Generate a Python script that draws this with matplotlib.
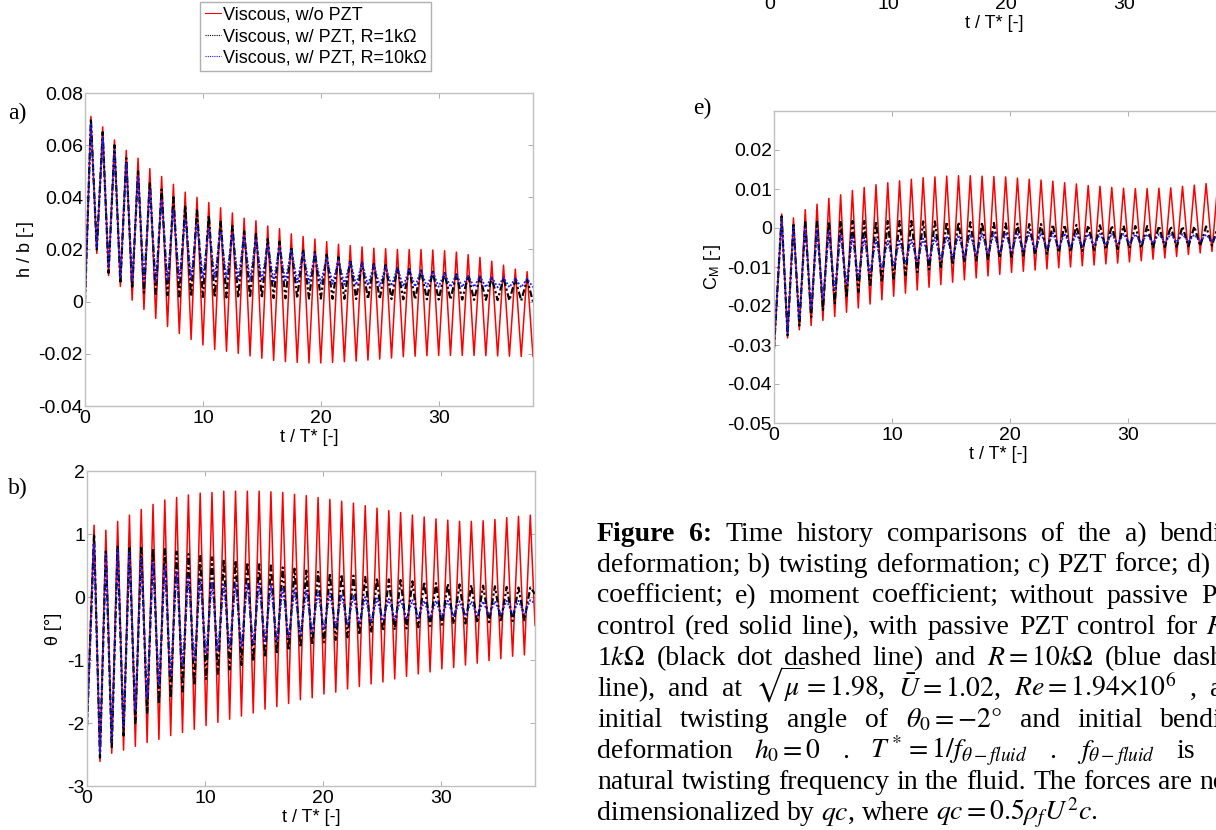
import re
import numpy as np
import matplotlib
matplotlib.use('Agg')
import matplotlib.pyplot as plt
from matplotlib.lines import Line2D

plt.rcParams['font.family'] = ['Liberation Sans', 'DejaVu Sans']
plt.rcParams['mathtext.fontset'] = 'stix'

W, H = 1216, 830

# ---- data: extremes of every oscillation cycle ----
# a) h / b : peaks at t = 0.5, 1.5, ... 37.5 ; troughs at t = 1, 2, ... 38
a_red_pk = [0.071, 0.067, 0.062, 0.058, 0.055, 0.051, 0.048, 0.045, 0.042, 0.040,
            0.038, 0.036, 0.034, 0.032, 0.031, 0.029, 0.028, 0.026, 0.025, 0.024,
            0.023, 0.022, 0.0215, 0.021, 0.0205, 0.0203, 0.020, 0.020, 0.020, 0.0198,
            0.0195, 0.019, 0.018, 0.017, 0.0155, 0.014, 0.0125, 0.0115]
a_red_tr = [0.0185, 0.010, 0.0058, 0.0006, -0.003, -0.0064, -0.0095, -0.0122, -0.0145, -0.0166,
            -0.0183, -0.019, -0.0198, -0.0208, -0.0217, -0.0225, -0.023, -0.0233, -0.0235, -0.0235,
            -0.0233, -0.023, -0.0228, -0.0224, -0.022, -0.0216, -0.0211, -0.0209, -0.0207, -0.0206,
            -0.0206, -0.0206, -0.0206, -0.0207, -0.0208, -0.0209, -0.021, -0.021]
a_blk_pk = [0.070, 0.065, 0.060, 0.055, 0.050, 0.046, 0.043, 0.040, 0.037, 0.035,
            0.033, 0.031, 0.029, 0.027, 0.026, 0.024, 0.023, 0.021, 0.020, 0.019,
            0.018, 0.017, 0.016, 0.015, 0.0145, 0.014, 0.013, 0.0125, 0.012, 0.0115,
            0.011, 0.0105, 0.010, 0.0095, 0.0092, 0.009, 0.0087, 0.0085]
a_blk_tr = [0.020, 0.011, 0.007, 0.005, 0.0035, 0.003, 0.0025, 0.002, 0.002, 0.0018,
            0.0017, 0.0016, 0.0015, 0.0015, 0.0014, 0.0014, 0.0013, 0.0013, 0.0012, 0.0012,
            0.0011, 0.0011, 0.001, 0.001, 0.001, 0.001, 0.0009, 0.0009, 0.0009, 0.0008,
            0.0008, 0.0008, 0.0007, 0.0007, 0.0006, 0.0005, 0.0004, 0.0]
a_blu_pk = [0.068, 0.063, 0.058, 0.053, 0.048, 0.043, 0.039, 0.035, 0.032, 0.030,
            0.028, 0.027, 0.026, 0.025, 0.024, 0.022, 0.021, 0.020, 0.019, 0.018,
            0.017, 0.016, 0.0155, 0.015, 0.014, 0.0135, 0.013, 0.0125, 0.012, 0.0115,
            0.011, 0.0105, 0.010, 0.0098, 0.0095, 0.0092, 0.009, 0.0088]
a_blu_tr = [0.021, 0.013, 0.009, 0.008, 0.0075, 0.0075, 0.008, 0.0085, 0.009, 0.009,
            0.009, 0.0088, 0.0085, 0.0082, 0.008, 0.0078, 0.0076, 0.0074, 0.0072, 0.007,
            0.0068, 0.0066, 0.0064, 0.0062, 0.006, 0.006, 0.0058, 0.0058, 0.0057, 0.0057,
            0.0056, 0.0056, 0.0056, 0.0055, 0.0055, 0.0055, 0.0055, 0.0055]
a_start = [0.0, 0.0, 0.0]

# b) theta : peaks at t = 0.6 ... 37.6 ; troughs at t = 1.1 ... 37.1 ; last point t = 38
b_red_pk = [1.14, 1.06, 1.2, 1.3, 1.39, 1.47, 1.54, 1.58, 1.62, 1.65,
            1.66, 1.68, 1.68, 1.68, 1.68, 1.67, 1.66, 1.63, 1.61, 1.58,
            1.55, 1.52, 1.49, 1.45, 1.41, 1.37, 1.34, 1.3, 1.27, 1.24,
            1.22, 1.2, 1.2, 1.21, 1.23, 1.26, 1.28, 1.3]
b_red_tr = [-2.61, -2.48, -2.43, -2.37, -2.31, -2.26, -2.2, -2.15, -2.1, -2.04,
            -1.99, -1.94, -1.89, -1.84, -1.78, -1.74, -1.69, -1.63, -1.6, -1.54,
            -1.51, -1.46, -1.42, -1.38, -1.35, -1.3, -1.26, -1.22, -1.19, -1.14,
            -1.12, -1.08, -1.05, -1.01, -0.98, -0.94, -0.92]
b_blk_pk = [1.0, 0.75, 0.8, 0.8, 0.78, 0.77, 0.76, 0.72, 0.68, 0.65,
            0.63, 0.6, 0.58, 0.55, 0.52, 0.5, 0.47, 0.45, 0.42, 0.4,
            0.38, 0.36, 0.34, 0.32, 0.3, 0.28, 0.27, 0.25, 0.24, 0.22,
            0.21, 0.2, 0.19, 0.18, 0.17, 0.16, 0.15, 0.15]
b_blk_tr = [-2.55, -2.4, -2.2, -2.0, -1.85, -1.7, -1.6, -1.5, -1.4, -1.3,
            -1.22, -1.15, -1.08, -1.02, -0.96, -0.9, -0.85, -0.8, -0.76, -0.72,
            -0.68, -0.64, -0.6, -0.57, -0.54, -0.52, -0.5, -0.48, -0.46, -0.44,
            -0.43, -0.42, -0.41, -0.4, -0.39, -0.38, -0.37]
b_blu_pk = [0.85, 0.7, 0.75, 0.7, 0.62, 0.55, 0.48, 0.4, 0.33, 0.28,
            0.24, 0.22, 0.22, 0.22, 0.21, 0.18, 0.15, 0.12, 0.1, 0.08,
            0.06, 0.04, 0.02, 0.0, -0.02, -0.03, -0.04, -0.05, -0.06, -0.06,
            -0.06, -0.07, -0.07, -0.07, -0.07, -0.06, -0.06, -0.05]
b_blu_tr = [-2.5, -2.3, -2.05, -1.8, -1.6, -1.4, -1.25, -1.1, -1.0, -0.9,
            -0.85, -0.8, -0.78, -0.75, -0.72, -0.7, -0.65, -0.6, -0.56, -0.52,
            -0.48, -0.45, -0.42, -0.4, -0.38, -0.36, -0.35, -0.34, -0.33, -0.32,
            -0.31, -0.3, -0.3, -0.29, -0.28, -0.27, -0.27]
b_start = [-2.0, -2.05, -2.1]
b_end = [-0.45, 0.05, -0.1]

# e) C_M : peaks at t = 0.65 ... 37.65 ; troughs at t = 1.15 ... 37.15 ; last point t = 38
e_red_pk = [0.0036, 0.0026, 0.0047, 0.0061, 0.0076, 0.0085, 0.0096, 0.0104, 0.0111, 0.0116,
            0.0121, 0.0125, 0.0129, 0.0131, 0.0133, 0.0134, 0.0134, 0.0133, 0.0132, 0.0131,
            0.0128, 0.0125, 0.0123, 0.012, 0.0116, 0.0113, 0.0109, 0.0107, 0.0104, 0.0102,
            0.0101, 0.0101, 0.0102, 0.0103, 0.0107, 0.011, 0.0114, 0.0117]
e_red_tr = [-0.0282, -0.0261, -0.025, -0.0237, -0.0227, -0.0216, -0.0205, -0.0195, -0.0184, -0.0175,
            -0.0167, -0.0159, -0.0152, -0.0145, -0.0139, -0.0133, -0.0128, -0.0123, -0.0119, -0.0114,
            -0.0111, -0.0108, -0.0105, -0.0102, -0.01, -0.0097, -0.0095, -0.0092, -0.009, -0.0087,
            -0.0084, -0.008, -0.0077, -0.0073, -0.0068, -0.0064, -0.006]
e_blk_pk = [0.003, 0.0012, 0.0015, 0.0016, 0.0017, 0.0018, 0.0018, 0.0018, 0.0018, 0.0018,
            0.0018, 0.0018, 0.0017, 0.0017, 0.0016, 0.0015, 0.0015, 0.0014, 0.0013, 0.0012,
            0.0011, 0.001, 0.001, 0.0009, 0.0008, 0.0008, 0.0007, 0.0007, 0.0006, 0.0006,
            0.0005, 0.0005, 0.0005, 0.0004, 0.0004, 0.0004, 0.0004, 0.0004]
e_blk_tr = [-0.0275, -0.025, -0.0228, -0.021, -0.0193, -0.0178, -0.0164, -0.0151, -0.014, -0.013,
            -0.0121, -0.0113, -0.0106, -0.01, -0.0094, -0.0089, -0.0084, -0.008, -0.0077, -0.0074,
            -0.0071, -0.0068, -0.0066, -0.0063, -0.0061, -0.0059, -0.0057, -0.0055, -0.0054, -0.0052,
            -0.0051, -0.005, -0.0049, -0.0048, -0.0047, -0.0046, -0.0045]
e_blu_pk = [0.0025, 0.0005, 0.0, -0.0005, -0.001, -0.0015, -0.002, -0.0025, -0.003, -0.0033,
            -0.0033, -0.003, -0.0027, -0.0024, -0.0021, -0.0018, -0.0016, -0.0014, -0.0013, -0.0012,
            -0.0012, -0.0012, -0.0013, -0.0013, -0.0014, -0.0014, -0.0015, -0.0015, -0.0015, -0.0015,
            -0.0016, -0.0016, -0.0016, -0.0016, -0.0016, -0.0017, -0.0017, -0.0017]
e_blu_tr = [-0.027, -0.0235, -0.0205, -0.018, -0.016, -0.0142, -0.0127, -0.0114, -0.0104, -0.0096,
            -0.009, -0.0086, -0.0083, -0.008, -0.0077, -0.0074, -0.0071, -0.0067, -0.0064, -0.0061,
            -0.0058, -0.0055, -0.0053, -0.0051, -0.0049, -0.0047, -0.0045, -0.0043, -0.0041, -0.004,
            -0.0039, -0.0038, -0.0037, -0.0036, -0.0035, -0.0034, -0.0034]
e_start = [-0.032, -0.031, -0.030]
e_end = [0.002, 0.0, -0.002]

labels = ['Viscous, w/o PZT', 'Viscous, w/ PZT, R=1k\u03a9', 'Viscous, w/ PZT, R=10k\u03a9']
xticks = [0, 10, 20, 30]
a_yticks = ['-0.04', '-0.02', '0', '0.02', '0.04', '0.06', '0.08']
b_yticks = ['-3', '-2', '-1', '0', '1', '2']
e_yticks = ['-0.05', '-0.04', '-0.03', '-0.02', '-0.01', '0', '0.01', '0.02']

caption = [
    'Figure 6: Time history comparisons of the a) bending',
    'deformation; b) twisting deformation; c) PZT force; d) lift',
    'coefficient; e) moment coefficient; without passive PZT',
    'control (red solid line), with passive PZT control for $R$ =',
    r'1$k\Omega$ (black dot dashed line) and $R = 10k\Omega$ (blue dashed',
    r'line), and at $\sqrt{\mu} = 1.98$, $\bar{U} = 1.02$, $Re = 1.94{\times}10^6$ , and',
    r'initial twisting angle of $\theta_0 = -2°$ and initial bending',
    r'deformation $h_0 = 0$ . $T^* = 1/f_{\theta-fluid}$ . $f_{\theta-fluid}$ is the',
    'natural twisting frequency in the fluid. The forces are non-',
    r'dimensionalized by $qc$,  where $qc = 0.5\rho_f U^2 c$.',
]
caption_bold = 2   # first words of the caption set in bold


def box(l, t, w, h):
    return [l / W, 1 - (t + h) / H, w / W, h / H]


def cycle(t0, y0, pk, pk_t0, tr, tr_t0, end=None):
    # join start point, peaks and troughs in time order
    tp = pk_t0 + np.arange(len(pk))
    tt = tr_t0 + np.arange(len(tr))
    t = np.concatenate(([t0], tp, tt))
    y = np.concatenate(([y0], pk, tr))
    if end is not None:
        t = np.append(t, 38.0)
        y = np.append(y, end)
    o = np.argsort(t)
    return t[o], y[o]


styles = [dict(color='#ff0000', lw=1.1, ls='-'),
          dict(color='black', lw=1.6, ls=(0, (3, 1.2, 1, 1.2))),
          dict(color='#1a1aff', lw=1.3, ls=(0, (1, 1)))]

FS = 14


def style_axes(ax, yt, ylim):
    ax.set_xlim(0, 38)
    ax.set_ylim(*ylim)
    ax.set_xticks(xticks)
    ax.set_xticklabels([str(v) for v in xticks])
    ax.set_yticks([float(v) for v in yt])
    ax.set_yticklabels(yt)
    ax.tick_params(direction='in', top=True, right=True, length=3.5, width=0.6,
                   color='#a0a0a0', labelsize=FS, pad=1.5)
    ax.tick_params(axis='x', pad=3)
    for s in ax.spines.values():
        s.set_color('#c0c0c0')
        s.set_linewidth(1.0)
    ax.set_xlabel('t / T* [-]', fontsize=13, labelpad=1)


fig = plt.figure(figsize=(W / 100, H / 100), dpi=100)

# a)
ax_a = fig.add_axes(box(85, 93, 448, 313))
sets = [(a_red_pk, a_red_tr), (a_blk_pk, a_blk_tr), (a_blu_pk, a_blu_tr)]
for i, (pk, tr) in enumerate(sets):
    t, y = cycle(0, a_start[i], pk, 0.5, tr, 1.0)
    ax_a.plot(t, y, **styles[i])
style_axes(ax_a, a_yticks, (-0.04, 0.08))
ax_a.set_ylabel('h / b [-]', fontsize=13, labelpad=3)

# b)
ax_b = fig.add_axes(box(87, 471, 448, 315))
sets = [(b_red_pk, b_red_tr), (b_blk_pk, b_blk_tr), (b_blu_pk, b_blu_tr)]
for i, (pk, tr) in enumerate(sets):
    t, y = cycle(0, b_start[i], pk, 0.6, tr, 1.1, b_end[i])
    ax_b.plot(t, y, **styles[i])
style_axes(ax_b, b_yticks, (-3, 2))
ax_b.set_ylabel('\u03b8 [\u00b0]', fontsize=13, labelpad=4)

# e)
ax_e = fig.add_axes(box(774, 111, 448, 312))
sets = [(e_red_pk, e_red_tr), (e_blk_pk, e_blk_tr), (e_blu_pk, e_blu_tr)]
for i, (pk, tr) in enumerate(sets):
    t, y = cycle(0, e_start[i], pk, 0.65, tr, 1.15, e_end[i])
    ax_e.plot(t, y, **styles[i])
style_axes(ax_e, e_yticks, (-0.05, 0.03))
ax_e.set_ylabel(r'C$_\mathregular{M}$ [-]', fontsize=13, labelpad=3)

# d) only its bottom edge shows at the top of the page
ax_d = fig.add_axes(box(770, -326, 448, 318))
style_axes(ax_d, ['0'], (-1, 1))

# panel tags
for s, x, y in [('a)', 8, 113), ('b)', 8, 488), ('e)', 693, 108)]:
    fig.text(x / W, 1 - y / H, s, family='Liberation Serif', fontsize=17, va='center')

# legend
handles = [Line2D([], [], color='#ff0000', lw=0.8, ls='-'),
           Line2D([], [], color='black', lw=0.8, ls=(0, (1, 1))),
           Line2D([], [], color='#1a1aff', lw=0.8, ls=(0, (1, 1)))]
fig.legend(handles, labels, loc='upper left', bbox_to_anchor=(200 / W, 1 - 2 / H),
           borderaxespad=0, fancybox=False, edgecolor='#b0b0b0', framealpha=1,
           fontsize=13, handlelength=0.9, handletextpad=0.1, labelspacing=0.25,
           borderpad=0.25)

# caption, justified between x0 and x1 (the right part runs off the page)
x0, x1 = 597, 1250
renderer = fig.canvas.get_renderer()
for i, line in enumerate(caption):
    y = 1 - (541 + 31 * i) / H
    words = re.findall(r'(?:[^\s$]|\$[^$]*\$)+', line)
    texts = []
    for j, w in enumerate(words):
        bold = (i == 0 and j < caption_bold)
        texts.append(fig.text(0, y, w, family='Liberation Serif', fontsize=20,
                              fontweight='bold' if bold else 'normal',
                              va='baseline', ha='left'))
    widths = [t.get_window_extent(renderer).width for t in texts]
    if i < len(caption) - 1:
        gap = (x1 - x0 - sum(widths)) / (len(words) - 1)
    else:
        gap = 7
    x = x0
    for t, w in zip(texts, widths):
        t.set_x(x / W)
        x += w + gap

fig.savefig('out.png', dpi=100)
